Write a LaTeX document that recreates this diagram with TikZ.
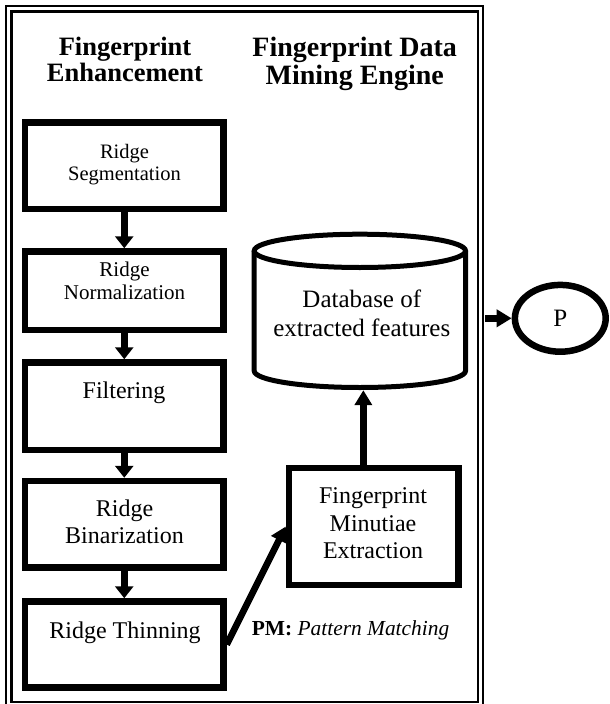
\documentclass[tikz,border=0pt]{standalone}
\usepackage{fontspec}
\setmainfont{Liberation Serif}
\usetikzlibrary{arrows.meta,shapes.geometric}
\newcommand\setfs[2]{\fontsize{#1}{#2}\selectfont}
\begin{document}
\begin{tikzpicture}[x=1pt,y=-1pt,
  stagebox/.style={draw, line width=6.5pt, inner sep=0pt, minimum width=198.5pt},
  boxtext/.style={anchor=north, inner sep=0pt, align=center},
  heading/.style={anchor=north, inner sep=0pt, align=center},
  flow/.style={line width=7pt, -{Triangle[width=18pt,length=12pt]}},
  feed/.style={line width=6.5pt, -{Triangle[width=17pt,length=15pt]}},
  dbline/.style={line width=5pt}
]
\useasboundingbox (0,0) rectangle (610,704);

% double outer frame
\draw[line width=2pt] (6,6) rectangle (482.5,709);
\draw[line width=2.5pt] (11.5,11.5) rectangle (478,702);

% column headings
\node[heading, font=\bfseries\setfs{26.5}{26.7}] (h1) at (125,36.7)
  {Fingerprint\\Enhancement};
\node[heading, font=\bfseries\setfs{28}{28.3}] (h2) at (354.7,36.7)
  {Fingerprint Data\\Mining Engine};

% enhancement stages
\node[stagebox, minimum height=86.5pt] (b1) at (124.25,165.5) {};
\node[stagebox, minimum height=78.5pt] (b2) at (124.25,290.75) {};
\node[stagebox, minimum height=87.5pt] (b3) at (124.25,406.25) {};
\node[stagebox, minimum height=86.5pt] (b4) at (124.25,524.25) {};
\node[stagebox, minimum height=86pt]   (b5) at (124.25,644.5) {};

\node[boxtext, font=\setfs{20.5}{21.7}] (b1t) at (124.5,144) {Ridge\\Segmentation};
\node[boxtext, font=\setfs{21}{23.3}]   (b2t) at (124.5,261.7) {Ridge\\Normalization};
\node[boxtext, font=\setfs{24}{27}]     (b3t) at (124,381.7) {Filtering};
\node[boxtext, font=\setfs{24}{27}]     (b4t) at (124.5,500) {Ridge\\Binarization};
\node[boxtext, font=\setfs{24}{27}]     (b5t) at (125,621.7) {Ridge Thinning};

\draw[flow] (b1.south) -- (b2.north);
\draw[flow] (b2.south) -- (b3.north);
\draw[flow] (b3.south) -- (b4.north);
\draw[flow] (b4.south) -- (b5.north);

% minutiae extraction
\node[draw, line width=6.5pt, inner sep=0pt, minimum width=169.5pt, minimum height=117pt]
  (mx) at (373.75,526.5) {};
\node[boxtext, font=\setfs{24}{27.4}] (mxt) at (373,487.7)
  {Fingerprint\\Minutiae\\Extraction};

% feature database (cylinder)
\node[inner sep=0pt, minimum width=216.3pt, minimum height=158.3pt] (db) at (359.85,310.85) {};
\begin{scope}[shift={(db.center)}]
  \draw[dbline] (0,-60) ellipse [x radius=105.65pt, y radius=16.65pt];
  \draw[dbline] (-105.65,-60) -- (-105.65,60)
    arc[start angle=180, end angle=360, x radius=105.65pt, y radius=16.65pt]
    -- (105.65,-60);
\end{scope}
\node[boxtext, font=\setfs{25}{28.3}] (dbt) at (361.8,290)
  {Database of\\extracted features};

% output
\node[draw, ellipse, line width=6.5pt, inner sep=0pt, minimum width=90.8pt,
  minimum height=66.8pt, font=\setfs{25}{28}] (p) at (560.3,318.3) {P};
\coordinate (pin) at (485,318.3);

% connectors
\draw[feed] (b5.east) -- (mx.west);
\draw[feed] ([xshift=3.5pt]db.south |- mx.north) -- ([xshift=3.5pt]db.south);
\draw[feed] (pin) -- (p.west);

% legend
\node[anchor=north west, inner sep=0pt, font=\setfs{21.4}{24}] (pm) at (251.7,620.7)
  {\textbf{PM:} \textit{Pattern Matching}};
\end{tikzpicture}
\end{document}
